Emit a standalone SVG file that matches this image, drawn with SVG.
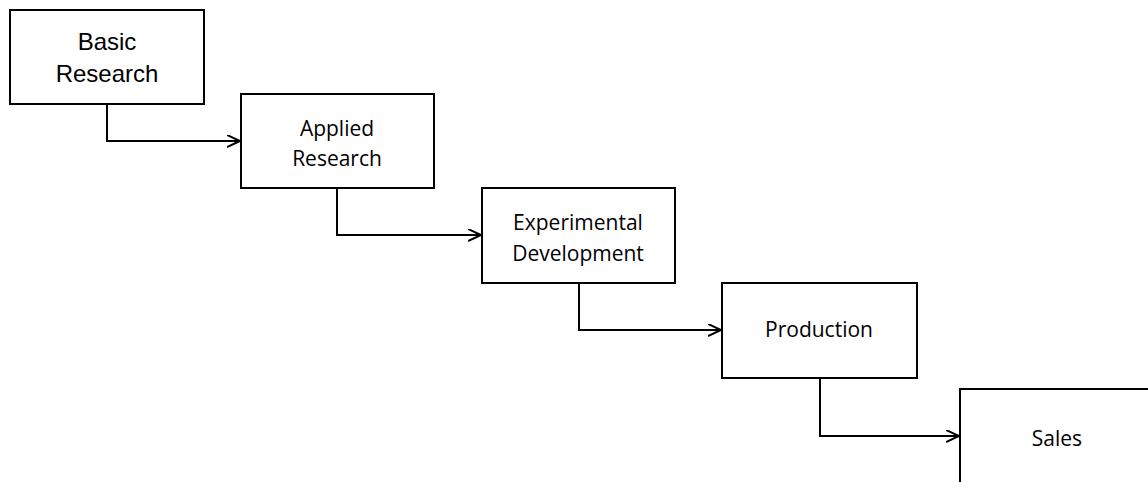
<svg xmlns="http://www.w3.org/2000/svg" width="1148" height="482" viewBox="0 0 1148 482">
<style>
.box{fill:#fff;stroke:#000;stroke-width:2}
.c{fill:none;stroke:#000;stroke-width:2}
.t1{font-family:"Liberation Sans",Arial,sans-serif;font-size:24px;text-anchor:middle;fill:#000}
.t{font-family:"Open Sans","Noto Sans",sans-serif;font-size:21px;text-anchor:middle;fill:#000}
</style>
<defs>
<marker id="arr" markerWidth="16" markerHeight="16" refX="13" refY="6" orient="auto" markerUnits="userSpaceOnUse">
<path d="M0,0 L13,6 L0,12" fill="none" stroke="#000" stroke-width="2"/>
</marker>
</defs>
<rect width="1148" height="482" fill="#fff"/>
<g id="connectors">
<path class="c" d="M107,104 V141 H240" marker-end="url(#arr)"/>
<path class="c" d="M337,188 V235 H481" marker-end="url(#arr)"/>
<path class="c" d="M579,283 V330 H721" marker-end="url(#arr)"/>
<path class="c" d="M820,378 V436 H959" marker-end="url(#arr)"/>
</g>
<g id="basic-research">
<rect class="box" x="10" y="10" width="194" height="94"/>
<text class="t1" x="107" y="50">Basic</text>
<text class="t1" x="107" y="82">Research</text>
</g>
<g id="applied-research">
<rect class="box" x="241" y="94" width="193" height="94"/>
<text class="t" x="337" y="136">Applied</text>
<text class="t" x="337" y="166">Research</text>
</g>
<g id="experimental-development">
<rect class="box" x="482" y="188" width="193" height="95"/>
<text class="t" x="578" y="230">Experimental</text>
<text class="t" x="578" y="261">Development</text>
</g>
<g id="production">
<rect class="box" x="722" y="283" width="195" height="95"/>
<text class="t" x="819" y="337">Production</text>
</g>
<g id="sales">
<rect class="box" x="960" y="389" width="194" height="96"/>
<text class="t" x="1057" y="446">Sales</text>
</g>
</svg>
